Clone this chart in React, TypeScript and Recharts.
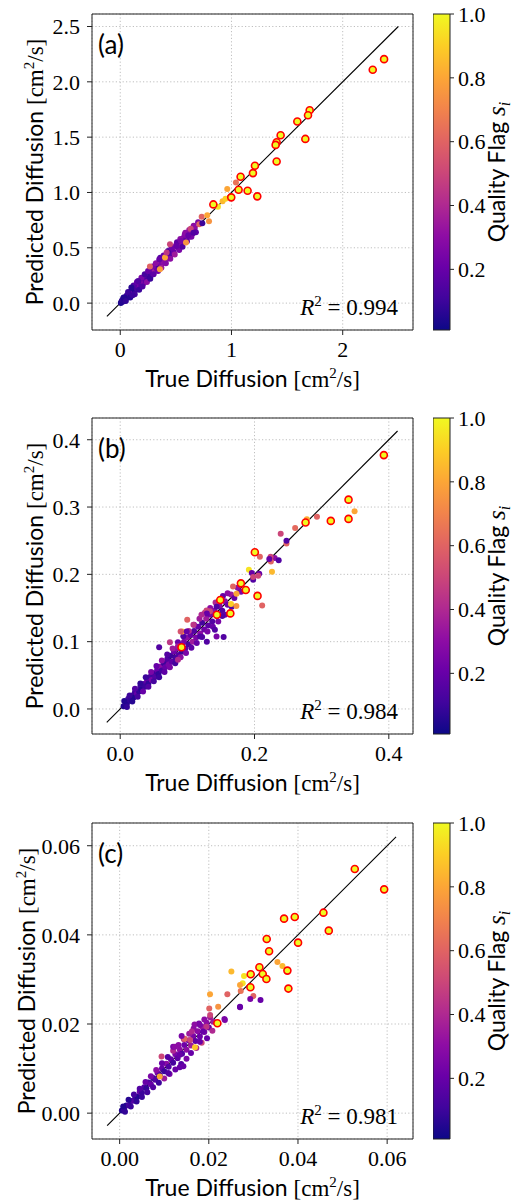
import React from "react";
import {
    ScatterChart,
    Scatter,
    XAxis,
    YAxis,
    CartesianGrid,
    ReferenceLine,
    ReferenceArea,
} from "recharts";

const SANS = "Lato, 'DejaVu Sans', sans-serif";
const SERIF = "'Liberation Serif', 'DejaVu Serif', serif";

// plasma colormap, 11 stops from 0 to 1
const plasmaStops = [
    "#0d0887", "#41049d", "#6a00a8", "#8f0da4", "#b12a90", "#cc4778",
    "#e16462", "#f2844b", "#fca636", "#fcce25", "#f0f921",
];
const flagMin = 0.01;
const flagMax = 1.0;
const cbTicks = [0.2, 0.4, 0.6, 0.8, 1.0];

// ---- panel (a) ----
const aTrue = [
    0.005, 0.015, 0.025, 0.035, 0.045, 0.055, 0.065, 0.075, 0.085, 0.095,
    0.01, 0.02, 0.03, 0.04, 0.05, 0.06, 0.07, 0.08, 0.09, 0.10, 0.11, 0.12, 0.13, 0.14, 0.15,
    0.16, 0.17, 0.18, 0.19, 0.20, 0.21, 0.22, 0.23, 0.24, 0.25, 0.26, 0.27, 0.28, 0.29, 0.30,
    0.31, 0.32, 0.33, 0.34, 0.35, 0.36, 0.37, 0.38, 0.39, 0.40, 0.42, 0.44, 0.45, 0.47, 0.48,
    0.50, 0.52, 0.53, 0.55, 0.57, 0.58, 0.60, 0.62, 0.63, 0.65, 0.67,
    0.03, 0.05, 0.07, 0.09, 0.12, 0.13, 0.15, 0.17, 0.19, 0.20, 0.22, 0.24, 0.25, 0.27,
    0.29, 0.30, 0.32, 0.34, 0.36, 0.37, 0.39, 0.41, 0.43, 0.45, 0.46, 0.49, 0.51, 0.53,
    0.54, 0.56, 0.58, 0.60, 0.62, 0.64, 0.66, 0.68, 0.70, 0.10, 0.11, 0.16,
    0.267, 0.357, 0.351, 0.402, 0.417, 0.447, 0.507, 0.546, 0.591, 0.585, 0.612, 0.633, 0.658,
    0.711, 0.738, 0.732, 0.782, 0.798, 0.878, 0.920, 0.947, 0.962, 1.040,
];
const aPred = [
    0.0, 0.02, 0.015, 0.04, 0.05, 0.05, 0.07, 0.08, 0.075, 0.1,
    0.01, 0.03, 0.02, 0.05, 0.04, 0.07, 0.06, 0.09, 0.07, 0.11, 0.09, 0.13, 0.11, 0.15, 0.13,
    0.17, 0.15, 0.19, 0.16, 0.21, 0.18, 0.23, 0.20, 0.25, 0.22, 0.27, 0.24, 0.30, 0.26, 0.31,
    0.29, 0.33, 0.31, 0.36, 0.33, 0.38, 0.35, 0.40, 0.37, 0.42, 0.40, 0.46, 0.43, 0.49, 0.46,
    0.52, 0.50, 0.55, 0.53, 0.59, 0.56, 0.62, 0.60, 0.65, 0.63, 0.68,
    0.05, 0.02, 0.10, 0.05, 0.16, 0.08, 0.19, 0.12, 0.23, 0.15, 0.26, 0.19, 0.29, 0.22,
    0.33, 0.26, 0.36, 0.29, 0.41, 0.32, 0.43, 0.36, 0.47, 0.40, 0.50, 0.44, 0.55, 0.48,
    0.58, 0.51, 0.62, 0.56, 0.66, 0.60, 0.70, 0.64, 0.73, 0.14, 0.07, 0.20,
    0.331, 0.306, 0.396, 0.412, 0.457, 0.532, 0.516, 0.561, 0.547, 0.637, 0.613, 0.673, 0.637,
    0.712, 0.721, 0.781, 0.793, 0.741, 0.871, 0.920, 0.944, 1.031, 1.091,
];
const aFlag = [
    0.03, 0.04, 0.03, 0.05, 0.04, 0.03, 0.06, 0.04, 0.05, 0.03,
    0.05, 0.08, 0.06, 0.10, 0.07, 0.12, 0.05, 0.15, 0.10, 0.08, 0.20, 0.10, 0.06, 0.18, 0.12,
    0.10, 0.22, 0.08, 0.15, 0.12, 0.25, 0.10, 0.18, 0.30, 0.12, 0.20, 0.10, 0.25, 0.15, 0.20,
    0.35, 0.12, 0.22, 0.30, 0.10, 0.40, 0.25, 0.15, 0.30, 0.20, 0.35, 0.25, 0.15, 0.30, 0.20,
    0.35, 0.25, 0.20, 0.30, 0.25, 0.15, 0.30, 0.20, 0.35, 0.25, 0.30,
    0.05, 0.08, 0.10, 0.06, 0.15, 0.12, 0.20, 0.10, 0.25, 0.15, 0.12, 0.30, 0.20, 0.10,
    0.25, 0.18, 0.30, 0.22, 0.15, 0.35, 0.20, 0.28, 0.12, 0.30, 0.22, 0.35, 0.18, 0.25,
    0.30, 0.15, 0.28, 0.20, 0.35, 0.25, 0.30, 0.18, 0.25, 0.06, 0.10, 0.15,
    0.60, 0.78, 0.20, 0.80, 0.45, 0.50, 0.20, 0.25, 0.75, 0.30, 0.20, 0.50, 0.15,
    0.60, 0.10, 0.60, 0.80, 0.75, 0.95, 0.85, 0.90, 0.80, 0.65,
];
const aHiTrue = [2.372, 2.270, 1.703, 1.688, 1.592, 1.664, 1.442, 1.406, 1.397, 1.406, 1.211, 1.193, 1.082, 1.064, 1.145, 1.232, 0.998, 0.837];
const aHiPred = [2.205, 2.109, 1.743, 1.698, 1.641, 1.484, 1.517, 1.454, 1.430, 1.280, 1.241, 1.175, 1.142, 1.025, 1.016, 0.965, 0.956, 0.892];
const aXTicks = [0, 1, 2];
const aYTicks = [0, 0.5, 1.0, 1.5, 2.0, 2.5];
const aLine = [-0.12, 2.5];

// ---- panel (b) ----
const bTrue = [
    0.005, 0.008, 0.010, 0.012, 0.015, 0.018, 0.020, 0.022, 0.025, 0.028, 0.030, 0.032, 0.035,
    0.037, 0.040, 0.042, 0.045, 0.047, 0.050, 0.052, 0.055, 0.057, 0.060, 0.062, 0.065, 0.067,
    0.070, 0.072, 0.075, 0.077, 0.080, 0.082, 0.085, 0.087, 0.090, 0.092, 0.095, 0.097, 0.100,
    0.102, 0.105, 0.108, 0.110, 0.113, 0.116, 0.119, 0.122, 0.125, 0.128, 0.131, 0.134, 0.137,
    0.140, 0.144, 0.148, 0.152, 0.156, 0.160, 0.165, 0.170, 0.175, 0.180,
    0.006, 0.010, 0.014, 0.018, 0.022, 0.026, 0.030, 0.034, 0.038, 0.042, 0.046, 0.050, 0.054,
    0.058, 0.062, 0.066, 0.070, 0.074, 0.078, 0.082, 0.086, 0.090, 0.094, 0.098, 0.102, 0.106,
    0.110, 0.114, 0.118, 0.122, 0.126, 0.130, 0.134, 0.138, 0.142, 0.146, 0.150, 0.156, 0.160, 0.166,
    0.349, 0.293, 0.278, 0.2605, 0.239, 0.2476, 0.2476, 0.230, 0.224, 0.236, 0.226, 0.208, 0.207,
    0.1916, 0.2114, 0.1732, 0.168, 0.165, 0.173, 0.141, 0.154, 0.1285, 0.0998, 0.0923, 0.074, 0.058,
    0.196, 0.2055, 0.198, 0.153, 0.1435, 0.152, 0.1336, 0.129, 0.121, 0.090, 0.109, 0.099, 0.086,
    0.129, 0.1435, 0.119, 0.086, 0.2244, 0.198, 0.222,
];
const bPred = [
    0.004, 0.010, 0.008, 0.015, 0.013, 0.020, 0.017, 0.025, 0.023, 0.026, 0.033, 0.029, 0.037,
    0.033, 0.042, 0.038, 0.048, 0.043, 0.053, 0.048, 0.058, 0.052, 0.063, 0.057, 0.068, 0.062,
    0.074, 0.066, 0.079, 0.070, 0.085, 0.076, 0.090, 0.080, 0.095, 0.085, 0.100, 0.090, 0.106,
    0.096, 0.110, 0.100, 0.116, 0.106, 0.122, 0.112, 0.128, 0.118, 0.134, 0.124, 0.140, 0.130,
    0.146, 0.138, 0.153, 0.146, 0.160, 0.155, 0.170, 0.165, 0.180, 0.174,
    0.012, 0.003, 0.020, 0.011, 0.030, 0.018, 0.038, 0.026, 0.047, 0.033, 0.055, 0.041, 0.064,
    0.047, 0.072, 0.055, 0.081, 0.062, 0.090, 0.068, 0.099, 0.077, 0.108, 0.083, 0.116, 0.091,
    0.125, 0.098, 0.134, 0.107, 0.143, 0.115, 0.150, 0.122, 0.158, 0.130, 0.163, 0.140, 0.172, 0.152,
    0.2938, 0.2854, 0.282, 0.269, 0.2605, 0.2457, 0.250, 0.2243, 0.2263, 0.221, 0.204, 0.226, 0.201,
    0.207, 0.1538, 0.171, 0.182, 0.156, 0.153, 0.1176, 0.107, 0.1464, 0.1325, 0.115, 0.099, 0.0918,
    0.202, 0.198, 0.192, 0.168, 0.152, 0.138, 0.145, 0.142, 0.140, 0.115, 0.125, 0.115, 0.093,
    0.100, 0.1076, 0.1076, 0.073, 0.219, 0.196, 0.2228,
];
const bFlag = [
    0.05, 0.10, 0.06, 0.12, 0.08, 0.15, 0.05, 0.10, 0.20, 0.08, 0.12, 0.06, 0.15,
    0.10, 0.20, 0.08, 0.12, 0.25, 0.10, 0.15, 0.20, 0.08, 0.30, 0.12, 0.10, 0.20,
    0.15, 0.25, 0.10, 0.18, 0.22, 0.12, 0.30, 0.15, 0.20, 0.10, 0.25, 0.18, 0.30,
    0.12, 0.20, 0.35, 0.15, 0.25, 0.20, 0.30, 0.12, 0.22, 0.35, 0.18, 0.25, 0.15,
    0.30, 0.20, 0.28, 0.15, 0.30, 0.22, 0.35, 0.20, 0.30, 0.25,
    0.05, 0.08, 0.10, 0.06, 0.15, 0.12, 0.08, 0.20, 0.10, 0.15, 0.25, 0.12, 0.20,
    0.10, 0.30, 0.18, 0.15, 0.25, 0.35, 0.12, 0.20, 0.30, 0.15, 0.25, 0.40, 0.18,
    0.30, 0.20, 0.35, 0.15, 0.45, 0.25, 0.30, 0.20, 0.40, 0.25, 0.35, 0.20, 0.30, 0.15,
    0.80, 0.60, 0.82, 0.62, 0.50, 0.60, 0.15, 0.30, 0.50, 0.15, 0.85, 0.60, 0.20,
    0.95, 0.60, 0.80, 0.60, 0.90, 0.75, 0.15, 0.15, 0.50, 0.60, 0.80, 0.45, 0.15,
    0.20, 0.50, 0.15, 0.20, 0.15, 0.15, 0.50, 0.20, 0.40, 0.55, 0.45, 0.20, 0.35,
    0.15, 0.25, 0.15, 0.40, 0.60, 0.50, 0.20,
];
const bHiTrue = [0.3926, 0.340, 0.340, 0.3136, 0.276, 0.2005, 0.2045, 0.187, 0.1797, 0.164, 0.149, 0.144, 0.0913];
const bHiPred = [0.3772, 0.311, 0.2824, 0.2794, 0.277, 0.2328, 0.168, 0.1767, 0.1866, 0.142, 0.162, 0.140, 0.0918];
const bXTicks = [0, 0.2, 0.4];
const bYTicks = [0, 0.1, 0.2, 0.3, 0.4];
const bLine = [-0.02, 0.413];

// ---- panel (c) ----
const cTrue = [
    0.0005, 0.0010, 0.0015, 0.0020, 0.0025, 0.0030, 0.0035, 0.0040, 0.0045, 0.0050, 0.0055,
    0.0060, 0.0065, 0.0070, 0.0075, 0.0080, 0.0085, 0.0090, 0.0095, 0.0100, 0.0105, 0.0110,
    0.0115, 0.0120, 0.0125, 0.0130, 0.0135, 0.0140, 0.0145, 0.0150, 0.0155, 0.0160, 0.0165,
    0.0170, 0.0175, 0.0180, 0.0185, 0.0190, 0.0195, 0.0200, 0.0210,
    0.0008, 0.0012, 0.0020, 0.0025, 0.0032, 0.0038, 0.0045, 0.0050, 0.0058, 0.0062, 0.0070,
    0.0075, 0.0082, 0.0088, 0.0095, 0.0100, 0.0108, 0.0112, 0.0120, 0.0125, 0.0132, 0.0138,
    0.0144, 0.0150, 0.0156, 0.0160, 0.0166, 0.0172, 0.0178, 0.0184, 0.0190, 0.0196, 0.0203, 0.0208,
    0.03539, 0.03651, 0.0279, 0.0276, 0.0270, 0.02716, 0.0300, 0.0293, 0.0316, 0.0270, 0.0235,
    0.0168, 0.0146, 0.0201, 0.0270, 0.0203, 0.0236, 0.0180, 0.0195, 0.0162, 0.0187, 0.0139,
    0.0158, 0.0169, 0.0180, 0.0120, 0.0135, 0.0094, 0.0135, 0.0109, 0.0090, 0.02416, 0.02027,
    0.0221, 0.0124, 0.0143, 0.02506,
];
const cPred = [
    0.0006, 0.0008, 0.0017, 0.0018, 0.0027, 0.0028, 0.0037, 0.0037, 0.0048, 0.0046, 0.0058,
    0.0056, 0.0069, 0.0065, 0.0079, 0.0075, 0.0090, 0.0085, 0.0100, 0.0094, 0.0111, 0.0104,
    0.0121, 0.0113, 0.0132, 0.0123, 0.0142, 0.0133, 0.0153, 0.0142, 0.0163, 0.0152, 0.0173,
    0.0162, 0.0184, 0.0172, 0.0194, 0.0182, 0.0203, 0.0192, 0.0205,
    0.0015, 0.0003, 0.0030, 0.0015, 0.0042, 0.0026, 0.0055, 0.0036, 0.0070, 0.0047, 0.0083,
    0.0058, 0.0097, 0.0068, 0.0112, 0.0078, 0.0126, 0.0088, 0.0140, 0.0098, 0.0153, 0.0110,
    0.0166, 0.0122, 0.0178, 0.0135, 0.0190, 0.0146, 0.0201, 0.0158, 0.0210, 0.0168, 0.0215, 0.0185,
    0.03392, 0.03303, 0.03079, 0.02914, 0.02877, 0.02742, 0.0263, 0.0256, 0.0254, 0.02376, 0.0211,
    0.0199, 0.01667, 0.0235, 0.0239, 0.0220, 0.0209, 0.0198, 0.0194, 0.0183, 0.0183, 0.0173,
    0.0164, 0.0148, 0.0160, 0.0149, 0.0131, 0.0127, 0.0103, 0.0090, 0.0082, 0.02668, 0.02668,
    0.0239, 0.01487, 0.0105, 0.03176,
];
const cFlag = [
    0.05, 0.10, 0.06, 0.12, 0.08, 0.15, 0.10, 0.05, 0.20, 0.10, 0.15,
    0.08, 0.12, 0.20, 0.10, 0.15, 0.25, 0.12, 0.20, 0.10, 0.30, 0.15,
    0.20, 0.12, 0.25, 0.18, 0.30, 0.15, 0.22, 0.30, 0.20, 0.35, 0.25,
    0.18, 0.30, 0.22, 0.35, 0.25, 0.30, 0.20, 0.35,
    0.05, 0.08, 0.06, 0.10, 0.12, 0.08, 0.15, 0.10, 0.20, 0.12, 0.25,
    0.15, 0.30, 0.10, 0.20, 0.35, 0.15, 0.25, 0.40, 0.20, 0.30, 0.15,
    0.45, 0.25, 0.35, 0.20, 0.30, 0.40, 0.25, 0.50, 0.30, 0.20, 0.35, 0.40,
    0.80, 0.85, 0.95, 0.95, 0.80, 0.65, 0.60, 0.25, 0.20, 0.25, 0.25,
    0.30, 0.60, 0.60, 0.20, 0.50, 0.25, 0.25, 0.45, 0.40, 0.20, 0.25,
    0.50, 0.88, 0.20, 0.25, 0.20, 0.50, 0.20, 0.15, 0.80, 0.60, 0.80,
    0.75, 0.30, 0.20, 0.85,
];
const cHiTrue = [0.05274, 0.05933, 0.04571, 0.04691, 0.03688, 0.03928, 0.03299, 0.04002, 0.03352, 0.03135, 0.03763, 0.0294, 0.0321, 0.03292, 0.02933, 0.03785, 0.02192];
const cHiPred = [0.05477, 0.05021, 0.04498, 0.04095, 0.04364, 0.04401, 0.03908, 0.03826, 0.03631, 0.03273, 0.03198, 0.03116, 0.03123, 0.03011, 0.02824, 0.02795, 0.02017];
const cXTicks = [0, 0.02, 0.04, 0.06];
const cYTicks = [0, 0.02, 0.04, 0.06];
const cLine = [-0.0028, 0.062];

function hexRgb(h: string) {
    return [1, 3, 5].map((i) => parseInt(h.slice(i, i + 2), 16));
}

function plasma(v: number) {
    const n = plasmaStops.length - 1;
    const t = Math.min(1, Math.max(0, (v - flagMin) / (flagMax - flagMin))) * n;
    const i = Math.min(Math.floor(t), n - 1);
    const f = t - i;
    const a = hexRgb(plasmaStops[i]);
    const b = hexRgb(plasmaStops[i + 1]);
    const c = a.map((av, k) => Math.round(av + (b[k] - av) * f));
    return `rgb(${c[0]},${c[1]},${c[2]})`;
}

type Pt = { x: number; y: number; s: number };

const zip = (xs: number[], ys: number[], ss?: number[]): Pt[] =>
    xs.map((x, i) => ({ x, y: ys[i], s: ss ? ss[i] : 1 }));

type PanelCfg = {
    tag: string;
    r2: string;
    pts: Pt[];
    hi: Pt[];
    xDomain: [number, number];
    yDomain: [number, number];
    xTicks: number[];
    yTicks: number[];
    xFmt: (v: number) => string;
    yFmt: (v: number) => string;
    line: number[];
    top: number;
    ylabelX: number;
};

const panels: PanelCfg[] = [
    {
        tag: "(a)", r2: "0.994",
        pts: zip(aTrue, aPred, aFlag), hi: zip(aHiTrue, aHiPred),
        xDomain: [-0.254, 2.632], yDomain: [-0.243, 2.613],
        xTicks: aXTicks, yTicks: aYTicks,
        xFmt: (v) => v.toFixed(0), yFmt: (v) => v.toFixed(1),
        line: aLine, top: 14, ylabelX: 43,
    },
    {
        tag: "(b)", r2: "0.984",
        pts: zip(bTrue, bPred, bFlag), hi: zip(bHiTrue, bHiPred),
        xDomain: [-0.042, 0.436], yDomain: [-0.0372, 0.4323],
        xTicks: bXTicks, yTicks: bYTicks,
        xFmt: (v) => v.toFixed(1), yFmt: (v) => v.toFixed(1),
        line: bLine, top: 418, ylabelX: 43,
    },
    {
        tag: "(c)", r2: "0.981",
        pts: zip(cTrue, cPred, cFlag), hi: zip(cHiTrue, cHiPred),
        xDomain: [-0.0062, 0.0658], yDomain: [-0.0058, 0.0651],
        xTicks: cXTicks, yTicks: cYTicks,
        xFmt: (v) => v.toFixed(2), yFmt: (v) => v.toFixed(2),
        line: cLine, top: 823, ylabelX: 35,
    },
];

const PLOT_L = 92;
const PLOT_R = 413;
const PLOT_H = 316;
const CB_L = 433;
const CB_W = 17;

const tickStyle = { fill: "#000", fontFamily: SERIF, fontSize: 22 };

function Dot(props: any) {
    return <circle cx={props.cx} cy={props.cy} r={3} fill={plasma(props.payload.s)} />;
}

function HiDot(props: any) {
    return <circle cx={props.cx} cy={props.cy} r={3.5} fill="#f0f921" stroke="#ff0000" strokeWidth={1.6} />;
}

function Panel({ cfg }: { cfg: PanelCfg }) {
    const h = 14 + PLOT_H + 60;
    const [lo, hi] = cfg.line;
    return (
        <>
            <div style={{ position: "absolute", left: 0, top: cfg.top - 14 }}>
                <ScatterChart
                    width={515}
                    height={h}
                    margin={{ top: 14, right: 515 - PLOT_R, bottom: 20, left: PLOT_L - 60 }}
                >
                    <CartesianGrid stroke="#b8b8b8" strokeDasharray="1.2 2.2" strokeWidth={0.9} />
                    <XAxis
                        type="number"
                        dataKey="x"
                        domain={cfg.xDomain}
                        ticks={cfg.xTicks}
                        tickFormatter={cfg.xFmt}
                        allowDataOverflow
                        height={40}
                        tickSize={5}
                        tickMargin={6}
                        axisLine={false}
                        stroke="#222"
                        tick={tickStyle}
                    />
                    <YAxis
                        type="number"
                        dataKey="y"
                        domain={cfg.yDomain}
                        ticks={cfg.yTicks}
                        tickFormatter={cfg.yFmt}
                        allowDataOverflow
                        width={60}
                        tickSize={5}
                        tickMargin={7}
                        axisLine={false}
                        stroke="#222"
                        tick={tickStyle}
                    />
                    <Scatter data={cfg.pts} shape={Dot} isAnimationActive={false} />
                    <Scatter data={cfg.hi} shape={HiDot} isAnimationActive={false} />
                    <ReferenceLine
                        segment={[{ x: lo, y: lo }, { x: hi, y: hi }]}
                        stroke="#000"
                        strokeWidth={1.1}
                    />
                    <ReferenceArea
                        x1={cfg.xDomain[0]}
                        x2={cfg.xDomain[1]}
                        y1={cfg.yDomain[0]}
                        y2={cfg.yDomain[1]}
                        fill="none"
                        stroke="#222"
                        strokeWidth={1}
                        fillOpacity={0}
                    />
                </ScatterChart>
            </div>
            <div style={{ position: "absolute", left: CB_L, top: cfg.top - 14 }}>
                <ScatterChart
                    width={82}
                    height={14 + PLOT_H + 20}
                    margin={{ top: 14, right: 82 - CB_W - 50, bottom: 20, left: 0 }}
                >
                    <XAxis type="number" dataKey="x" domain={[0, 1]} hide />
                    <YAxis
                        type="number"
                        dataKey="y"
                        orientation="right"
                        domain={[flagMin, flagMax]}
                        ticks={cbTicks}
                        tickFormatter={(v: number) => v.toFixed(1)}
                        allowDataOverflow
                        width={50}
                        tickSize={4}
                        tickMargin={4}
                        axisLine={false}
                        stroke="#222"
                        tick={tickStyle}
                    />
                    <ReferenceArea
                        x1={0}
                        x2={1}
                        y1={flagMin}
                        y2={flagMax}
                        fill="url(#plasmaGrad)"
                        fillOpacity={1}
                        stroke="#222"
                        strokeWidth={1}
                    />
                    <Scatter
                        data={cbTicks.map((t) => ({ x: 0.5, y: t }))}
                        shape={() => <g />}
                        isAnimationActive={false}
                    />
                </ScatterChart>
            </div>
        </>
    );
}

function PanelText({ cfg }: { cfg: PanelCfg }) {
    const top = cfg.top;
    const bottom = cfg.top + PLOT_H;
    const cy = (top + bottom) / 2;
    const cx = (PLOT_L + PLOT_R) / 2;
    const lx = cfg.ylabelX;
    const unit = (
        <>
            <tspan fontFamily={SERIF}>[cm</tspan>
            <tspan fontFamily={SERIF} fontSize={15} dy={-9}>2</tspan>
            <tspan fontFamily={SERIF} dy={9}>/s]</tspan>
        </>
    );
    return (
        <g fill="#000">
            <text x={98} y={top + 40} fontFamily={SANS} fontSize={26}>{cfg.tag}</text>
            <text x={398} y={bottom - 15} fontFamily={SERIF} fontSize={23} textAnchor="end">
                <tspan fontStyle="italic">R</tspan>
                <tspan fontSize={15} dy={-9}>2</tspan>
                <tspan dy={9}>{" = " + cfg.r2}</tspan>
            </text>
            <text x={cx} y={bottom + 57} fontFamily={SANS} fontSize={23} textAnchor="middle">
                <tspan>True Diffusion </tspan>
                {unit}
            </text>
            <text
                x={lx}
                y={cy}
                fontFamily={SANS}
                fontSize={23}
                textAnchor="middle"
                transform={`rotate(-90 ${lx} ${cy})`}
            >
                <tspan>Predicted Diffusion </tspan>
                {unit}
            </text>
            <text
                x={505}
                y={cy}
                fontFamily={SANS}
                fontSize={23}
                textAnchor="middle"
                transform={`rotate(-90 505 ${cy})`}
            >
                <tspan>Quality Flag </tspan>
                <tspan fontFamily={SERIF} fontStyle="italic" fontSize={25}>s</tspan>
                <tspan fontFamily={SERIF} fontStyle="italic" fontSize={16} dy={5}>i</tspan>
            </text>
        </g>
    );
}

export default function App() {
    return (
        <div
            style={{
                position: "fixed",
                left: 0,
                top: 0,
                width: 515,
                height: 1202,
                background: "#fff",
                overflow: "hidden",
            }}
        >
            {panels.map((p) => (
                <Panel key={p.tag} cfg={p} />
            ))}
            <svg
                width={515}
                height={1202}
                style={{ position: "absolute", left: 0, top: 0, pointerEvents: "none" }}
            >
                <defs>
                    <linearGradient id="plasmaGrad" x1="0" y1="1" x2="0" y2="0">
                        {plasmaStops.map((c, i) => (
                            <stop key={i} offset={`${(i / (plasmaStops.length - 1)) * 100}%`} stopColor={c} />
                        ))}
                    </linearGradient>
                </defs>
                {panels.map((p) => (
                    <PanelText key={p.tag} cfg={p} />
                ))}
            </svg>
        </div>
    );
}
